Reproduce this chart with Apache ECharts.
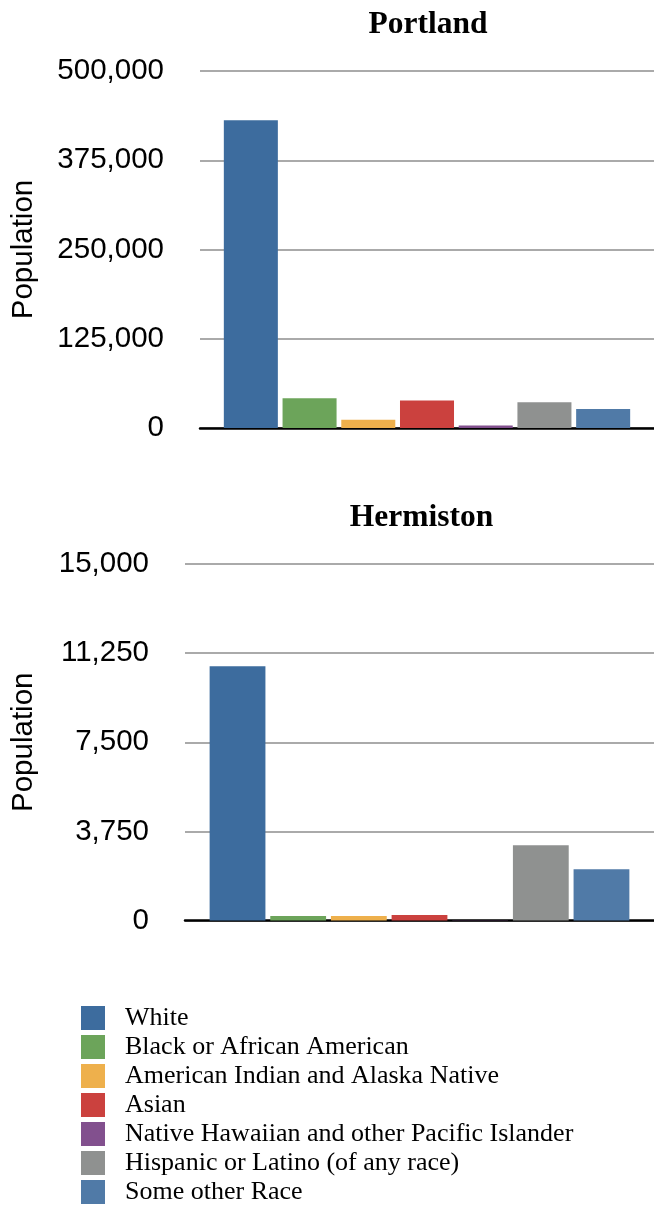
<!DOCTYPE html>
<html>
<head>
<meta charset="utf-8">
<script src="https://cdn.jsdelivr.net/npm/echarts@6/dist/echarts.min.js"></script>
<style>
html,body{margin:0;padding:0;background:#fff;}
#chart{width:654px;height:1206px;}
</style>
</head>
<body>
<div id="chart"></div>
<script>
const cities = ['Portland', 'Hermiston'];
const races = [
  'White',
  'Black or African American',
  'American Indian and Alaska Native',
  'Asian',
  'Native Hawaiian and other Pacific Islander',
  'Hispanic or Latino (of any race)',
  'Some other Race'
];
const portlandValues = [431000, 41500, 11500, 38500, 3500, 36200, 26500];
const hermistonValues = [10700, 190, 190, 230, 10, 3170, 2160];
const portlandTicks = [0, 125000, 250000, 375000, 500000];
const hermistonTicks = [0, 3750, 7500, 11250, 15000];
const colors = ['#3d6c9e', '#6ca45a', '#eeb04c', '#cb413e', '#82508e', '#8f9190', '#507aa7'];

const chart = echarts.init(document.getElementById('chart'), null, {renderer: 'canvas'});

const fmt = v => Number(v).toLocaleString('en-US');

function yAxis(gridIndex, ticks, nameGap) {
  return {
    type: 'value',
    gridIndex: gridIndex,
    min: ticks[0],
    max: ticks[ticks.length - 1],
    interval: ticks[1] - ticks[0],
    name: 'Population',
    nameLocation: 'middle',
    nameGap: nameGap,
    nameTextStyle: {fontFamily: 'Liberation Sans, Arial', fontSize: 29.5, color: '#000'},
    axisLine: {show: false},
    axisTick: {show: false},
    axisLabel: {fontFamily: 'Liberation Sans, Arial', fontSize: 29.5, color: '#000', margin: 36, formatter: fmt},
    splitLine: {show: true, lineStyle: {color: '#aaaaaa', width: 2}}
  };
}

function xAxis(gridIndex) {
  return {
    type: 'category',
    gridIndex: gridIndex,
    data: [cities[gridIndex]],
    axisLine: {show: true, lineStyle: {color: '#000', width: 2.5}},
    axisTick: {show: false},
    axisLabel: {show: false}
  };
}

const series = [];
[portlandValues, hermistonValues].forEach((vals, gi) => {
  races.forEach((r, i) => {
    series.push({
      type: 'bar',
      name: r,
      xAxisIndex: gi,
      yAxisIndex: gi,
      data: [vals[i]],
      barGap: '8.7%',
      barCategoryGap: '10.5%',
      itemStyle: {color: colors[i]}
    });
  });
});

chart.setOption({
  animation: false,
  title: [
    {text: cities[0], left: 428, textAlign: 'center', top: 9, padding: 0,
     textStyle: {fontFamily: 'Liberation Serif, Times New Roman', fontWeight: 'bold', fontSize: 31.5, color: '#000'}},
    {text: cities[1], left: 421.5, textAlign: 'center', top: 502, padding: 0,
     textStyle: {fontFamily: 'Liberation Serif, Times New Roman', fontWeight: 'bold', fontSize: 31.5, color: '#000'}}
  ],
  grid: [
    {left: 200, right: -1, top: 71, height: 357},
    {left: 185, right: -1, top: 564, height: 356.5}
  ],
  xAxis: [xAxis(0), xAxis(1)],
  yAxis: [yAxis(0, portlandTicks, 161), yAxis(1, hermistonTicks, 146)],
  legend: {
    data: races,
    orient: 'vertical',
    left: 81,
    top: 1005,
    height: 220,
    padding: 0,
    itemWidth: 24,
    itemHeight: 24,
    itemGap: 3,
    icon: 'rect',
    selectedMode: false,
    textStyle: {fontFamily: 'Liberation Serif, Times New Roman', fontSize: 26, color: '#000', lineHeight: 24, padding: [0, 0, 0, 15]}
  },
  series: series
});
</script>
</body>
</html>
